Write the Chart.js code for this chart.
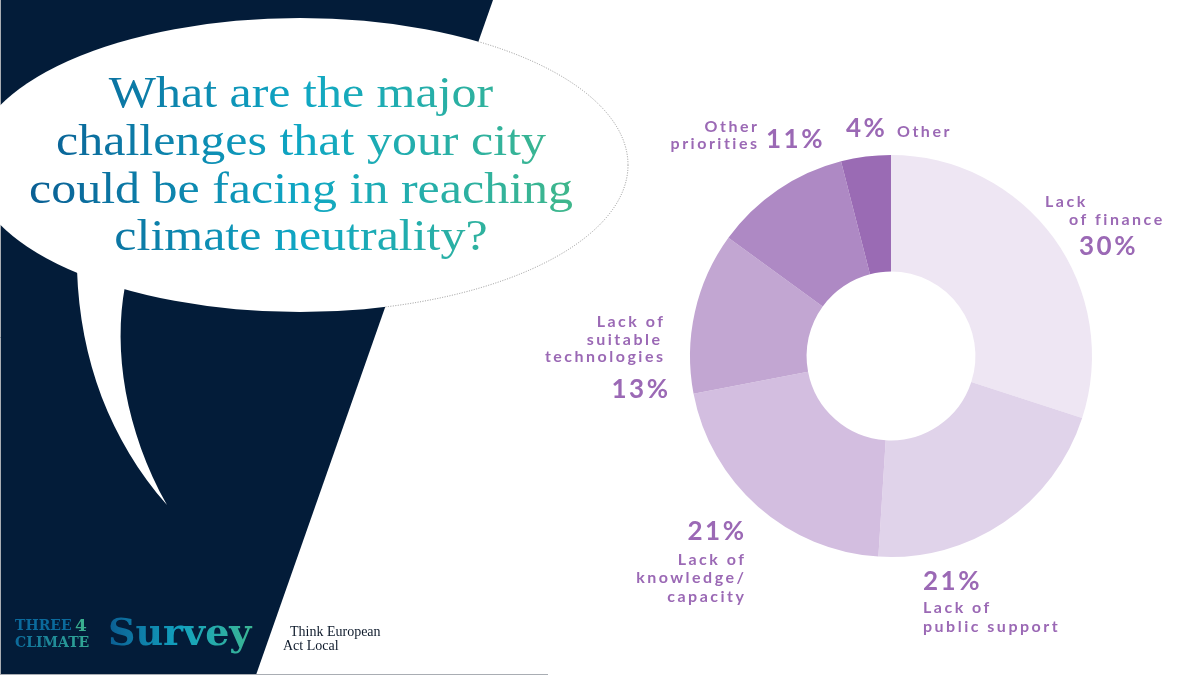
<!DOCTYPE html>
<html>
<head>
<meta charset="utf-8">
<script src="https://cdn.jsdelivr.net/npm/chart.js@4"></script>
<style>
html, body { margin: 0; padding: 0; background: #fff; }
canvas { display: block; }
</style>
</head>
<body>
<canvas id="survey" width="1200" height="675"></canvas>
<script>
(() => {
    'use strict'

    // Data
    const categories = [
        'Lack of finance',
        'Lack of public support',
        'Lack of knowledge/capacity',
        'Lack of suitable technologies',
        'Other priorities',
        'Other'
    ]
    const shares = [30, 21, 21, 13, 11, 4]
    const labelLines = [
        ['Lack', 'of finance'],
        ['Lack of', 'public support'],
        ['Lack of', 'knowledge/', 'capacity'],
        ['Lack of', 'suitable', 'technologies'],
        ['Other', 'priorities'],
        ['Other']
    ]
    const titleLines = [
        'What are the major',
        'challenges that your city',
        'could be facing in reaching',
        'climate neutrality?'
    ]

    const sliceColors = ['#eee6f3', '#e0d3ea', '#d3bee0', '#c2a6d2', '#ae89c4', '#9a6bb4']
    const ink = '#9b69b5'
    const navy = '#031c39'

    // where each label sits, as offsets from the doughnut centre [dx, dy, align]
    const labelLayout = [
        { lines: [[154, -154, 'left'], [178, -136, 'left']], pct: [188, -109, 'left'] },
        { lines: [[32, 252, 'left'], [32, 271, 'left']], pct: [32, 226, 'left'] },
        { lines: [[-147, 204, 'right'], [-147, 222, 'right'], [-147, 241, 'right']], pct: [-147, 176, 'right'] },
        { lines: [[-228, -34, 'right'], [-231, -16, 'right'], [-228, 1, 'right']], pct: [-223, 34, 'right'] },
        { lines: [[-134, -229, 'right'], [-134, -212, 'right']], pct: [-125, -216, 'left'] },
        { lines: [[6, -224, 'left']], pct: [-45, -227, 'left'] }
    ]

    function spacing(ctx, px) {
        if ('letterSpacing' in ctx) ctx.letterSpacing = px + 'px'
    }

    function spacedText(ctx, text, x, y, align, px) {
        spacing(ctx, px)
        ctx.textAlign = align
        // canvas adds the spacing after the last letter too
        ctx.fillText(text, align === 'right' ? x + px : x, y)
    }

    const backdrop = {
        id: 'backdrop',
        beforeDraw(chart) {
            const ctx = chart.ctx
            ctx.save()
            ctx.fillStyle = '#fff'
            ctx.fillRect(0, 0, 1200, 675)

            // navy panel
            ctx.fillStyle = navy
            ctx.beginPath()
            ctx.moveTo(0, 0)
            ctx.lineTo(493, 0)
            ctx.lineTo(256, 675)
            ctx.lineTo(0, 675)
            ctx.closePath()
            ctx.fill()

            // thin slide frame
            ctx.strokeStyle = '#a9adb3'
            ctx.lineWidth = 1
            ctx.beginPath()
            ctx.moveTo(0.5, 0)
            ctx.lineTo(0.5, 675)
            ctx.moveTo(0, 674.5)
            ctx.lineTo(548, 674.5)
            ctx.stroke()

            // speech bubble
            ctx.fillStyle = '#fff'
            ctx.beginPath()
            ctx.ellipse(300, 165, 328, 147, 0, 0, Math.PI * 2)
            ctx.fill()
            ctx.beginPath()
            ctx.moveTo(77, 270)
            ctx.bezierCurveTo(80, 360, 110, 440, 167, 505)
            ctx.bezierCurveTo(125, 430, 113, 350, 125, 286)
            ctx.lineTo(100, 250)
            ctx.closePath()
            ctx.fill()

            // dotted outline, only visible on the white side
            ctx.save()
            ctx.beginPath()
            ctx.moveTo(493, 0)
            ctx.lineTo(1200, 0)
            ctx.lineTo(1200, 675)
            ctx.lineTo(256, 675)
            ctx.closePath()
            ctx.clip()
            ctx.setLineDash([1, 1.5])
            ctx.strokeStyle = '#7d7d7d'
            ctx.lineWidth = 0.8
            ctx.beginPath()
            ctx.ellipse(300, 165, 328, 147, 0, 0, Math.PI * 2)
            ctx.stroke()
            ctx.restore()

            // title
            ctx.font = '45px "Liberation Serif"'
            ctx.textBaseline = 'alphabetic'
            ctx.textAlign = 'center'
            let widest = 0
            titleLines.forEach(t => { widest = Math.max(widest, ctx.measureText(t).width) })
            const sx = 544 / widest
            const baselines = [107, 155, 203, 250]
            titleLines.forEach((t, i) => {
                ctx.save()
                ctx.translate(301, baselines[i])
                ctx.scale(sx, 1)
                const g = ctx.createLinearGradient((30 - 301) / sx, 0, (575 - 301) / sx, 0)
                g.addColorStop(0, '#0a5f94')
                g.addColorStop(0.5, '#0fa7c4')
                g.addColorStop(1, '#40b78b')
                ctx.fillStyle = g
                ctx.fillText(t, 0, 0)
                ctx.restore()
            })

            // logo
            ctx.textAlign = 'left'
            ctx.font = 'bold 14px "DejaVu Serif"'
            ctx.fillStyle = '#0b6a9c'
            ctx.fillText('THREE', 15, 630)
            const lg = ctx.createLinearGradient(15, 0, 90, 0)
            lg.addColorStop(0, '#0b6a9c')
            lg.addColorStop(1, '#34ab94')
            ctx.fillStyle = lg
            ctx.fillText('CLIMATE', 15, 647)
            ctx.font = 'bold 17px "DejaVu Serif"'
            ctx.fillStyle = '#39ae8f'
            ctx.fillText('4', 75, 631)

            ctx.font = 'bold 38px "DejaVu Serif"'
            const sg = ctx.createLinearGradient(108, 0, 252, 0)
            sg.addColorStop(0, '#0b5e93')
            sg.addColorStop(0.5, '#12a2bf')
            sg.addColorStop(1, '#3bb593')
            ctx.fillStyle = sg
            ctx.fillText('Survey', 108, 645)

            ctx.font = '14px "Liberation Serif"'
            ctx.fillStyle = '#0e1a2b'
            ctx.fillText('Think European', 290, 636)
            ctx.fillText('Act Local', 283, 650)
            ctx.restore()
        }
    }

    const sliceLabels = {
        id: 'sliceLabels',
        afterDraw(chart) {
            const ctx = chart.ctx
            const arc = chart.getDatasetMeta(0).data[0]
            const cx = arc.x
            const cy = arc.y
            ctx.save()
            ctx.fillStyle = ink
            ctx.textBaseline = 'middle'
            labelLayout.forEach((lay, i) => {
                ctx.font = 'bold 16px Lato'
                labelLines[i].forEach((line, j) => {
                    const p = lay.lines[j]
                    spacedText(ctx, line, cx + p[0], cy + p[1], p[2], 2.5)
                })
                ctx.font = 'bold 26px Lato'
                const q = lay.pct
                spacedText(ctx, shares[i] + '%', cx + q[0], cy + q[1], q[2], 2.5)
            })
            ctx.restore()
        }
    }

    const ctx = document.getElementById('survey')
    // eslint-disable-next-line no-unused-vars
    const myPie = new Chart(ctx, {
        type: 'doughnut',
        data: {
            labels: categories,
            datasets: [{
                data: shares,
                backgroundColor: sliceColors,
                borderWidth: 0,
                hoverOffset: 0
            }]
        },
        options: {
            responsive: false,
            animation: false,
            cutout: '42%',
            events: [],
            layout: {
                padding: { left: 690, right: 108, top: 155, bottom: 118 }
            },
            plugins: {
                legend: { display: false },
                tooltip: { enabled: false }
            }
        },
        plugins: [backdrop, sliceLabels]
    })
})()
</script>
</body>
</html>
